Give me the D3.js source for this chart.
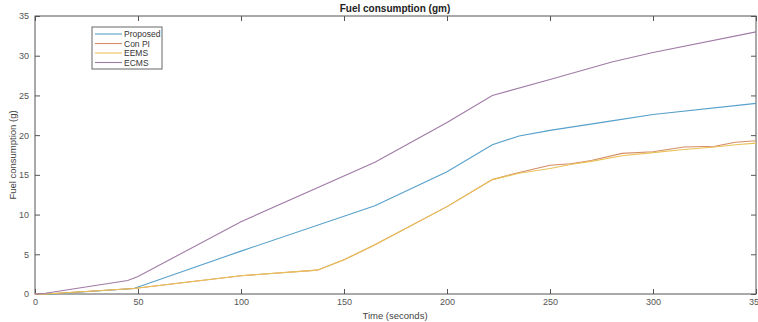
<!DOCTYPE html>
<html><head><meta charset="utf-8">
<script src="https://cdn.jsdelivr.net/npm/d3@7"></script>
<style>body{margin:0;background:#fff}svg{display:block}</style>
</head><body><div id="chart"></div>
<script>
const seriesNames = ["Proposed", "Con PI", "EEMS", "ECMS"];
const seriesColors = ["#56a0cb", "#d58c66", "#e9c256", "#a07ba6"];
const xTicks = [0, 50, 100, 150, 200, 250, 300, 350];
const yTicks = [0, 5, 10, 15, 20, 25, 30, 35];

const proposedT = [0, 8, 48, 100, 165, 200, 222, 235, 250, 280, 300, 350];
const proposedV = [0, 0, 0.7, 5.4, 11.1, 15.4, 18.8, 19.9, 20.6, 21.8, 22.6, 24.0];

const conPiT = [0, 5, 48, 100, 137, 150, 165, 200, 222, 235, 250, 260, 270, 285, 300, 315, 330, 340, 350];
const conPiV = [0, 0, 0.7, 2.3, 3.0, 4.3, 6.2, 11, 14.4, 15.3, 16.2, 16.4, 16.8, 17.7, 17.9, 18.5, 18.6, 19.1, 19.3];

const eemsT = [0, 5, 48, 100, 137, 150, 165, 200, 222, 235, 250, 260, 270, 285, 300, 315, 330, 340, 350];
const eemsV = [0, 0, 0.7, 2.3, 3.0, 4.3, 6.2, 11, 14.4, 15.2, 15.8, 16.3, 16.7, 17.4, 17.8, 18.2, 18.5, 18.8, 19.0];

const ecmsT = [0, 5, 45, 50, 100, 165, 200, 222, 250, 280, 300, 350];
const ecmsV = [0, 0.1, 1.7, 2.2, 9.1, 16.6, 21.6, 25.0, 27.0, 29.2, 30.4, 33.0];

const seriesT = [proposedT, conPiT, eemsT, ecmsT];
const seriesV = [proposedV, conPiV, eemsV, ecmsV];

const W = 758, H = 322;
const m = {left: 35, right: 2, top: 16, bottom: 28};
const svg = d3.select("#chart").append("svg").attr("width", W).attr("height", H);
const x = d3.scaleLinear().domain([0, 350]).range([m.left, W - m.right]);
const y = d3.scaleLinear().domain([0, 35]).range([H - m.bottom, m.top]);

const axisColor = "#555";
const font = "Liberation Sans, Arial, sans-serif";

svg.append("rect").attr("x", x(0)).attr("y", y(35)).attr("width", x(350) - x(0)).attr("height", y(0) - y(35))
  .attr("fill", "none").attr("stroke", axisColor).attr("stroke-width", 1);

const gx = svg.append("g").attr("transform", `translate(0,${y(0)})`)
  .call(d3.axisBottom(x).tickValues(xTicks).tickSize(-5).tickPadding(5).tickFormat(d3.format("d")));
const gxt = svg.append("g").attr("transform", `translate(0,${y(35)})`)
  .call(d3.axisTop(x).tickValues(xTicks).tickSize(-5).tickFormat(""));
const gy = svg.append("g").attr("transform", `translate(${x(0)},0)`)
  .call(d3.axisLeft(y).tickValues(yTicks).tickSize(-5).tickPadding(6).tickFormat(d3.format("d")));
const gyr = svg.append("g").attr("transform", `translate(${x(350)},0)`)
  .call(d3.axisRight(y).tickValues(yTicks).tickSize(-5).tickFormat(""));
[gx, gxt, gy, gyr].forEach(g => {
  g.select(".domain").remove();
  g.selectAll("line").attr("stroke", axisColor);
  g.selectAll("text").attr("fill", "#555").style("font-family", font).style("font-size", "9px");
});

const line = d3.line().x(d => x(d[0])).y(d => y(d[1]));
seriesNames.forEach((name, i) => {
  const pts = seriesT[i].map((t, k) => [t, seriesV[i][k]]);
  svg.append("path").datum(pts).attr("d", line).attr("fill", "none")
    .attr("stroke", seriesColors[i]).attr("stroke-width", 1.1);
});

svg.append("text").attr("x", 395).attr("y", 12).attr("text-anchor", "middle")
  .style("font-family", font).style("font-size", "10px").style("font-weight", "bold").attr("fill", "#222")
  .text("Fuel consumption (gm)");
svg.append("text").attr("x", 395).attr("y", 319).attr("text-anchor", "middle")
  .style("font-family", font).style("font-size", "9.5px").attr("fill", "#444").text("Time (seconds)");
svg.append("text").attr("transform", `translate(16,${(y(0) + y(35)) / 2}) rotate(-90)`).attr("text-anchor", "middle")
  .style("font-family", font).style("font-size", "9.5px").attr("fill", "#444").text("Fuel consumption (g)");

const lg = svg.append("g");
lg.append("rect").attr("x", 92).attr("y", 27).attr("width", 70).attr("height", 42)
  .attr("fill", "#fff").attr("stroke", "#666").attr("stroke-width", 1);
seriesNames.forEach((name, i) => {
  const yy = 34 + i * 9.5;
  lg.append("line").attr("x1", 95).attr("x2", 122).attr("y1", yy).attr("y2", yy)
    .attr("stroke", seriesColors[i]).attr("stroke-width", 1.1);
  lg.append("text").attr("x", 124).attr("y", yy + 3).style("font-family", font).style("font-size", "8.5px")
    .attr("fill", "#333").text(name);
});
</script>
</body></html>
